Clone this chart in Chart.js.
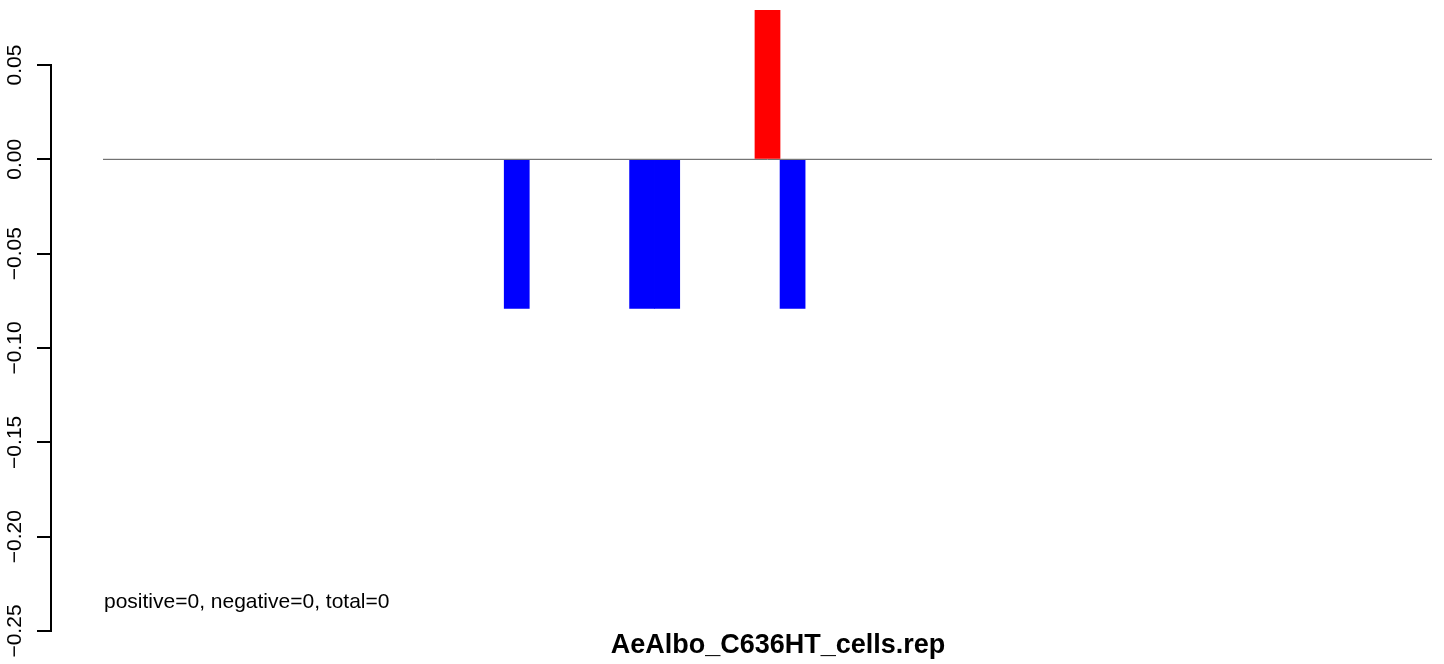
<!DOCTYPE html>
<html>
<head>
<meta charset="utf-8">
<title>AeAlbo_C636HT_cells.rep</title>
<script src="https://cdn.jsdelivr.net/npm/chart.js@4.4.1/dist/chart.umd.min.js"></script>
<style>
  body { margin: 0; background: #fff; }
  canvas { display: block; }
</style>
</head>
<body>
<canvas id="myChart" width="1444" height="664"></canvas>
<script>
// bins run 0..52 along the x axis, only non-empty ones listed
const binCount = 53;
const positiveBins = [26];
const positiveValues = [0.079];
const negativeBins = [16, 21, 22, 27];
const negativeValues = [-0.079, -0.079, -0.079, -0.079];
const yTicks = [-0.25, -0.2, -0.15, -0.1, -0.05, 0, 0.05];

const titleText = "AeAlbo_C636HT_cells.rep";
const statsText = "positive=0, negative=0, total=0";

const toPoints = (bins, values) =>
  bins.map((b, i) => ({ x: b + 0.5, y: values[i] }));

// R-style free text: the stats line and the bold title under the plot
const textLabels = {
  id: "textLabels",
  afterDraw(chart) {
    const c = chart.ctx;
    const x0 = chart.scales.x.getPixelForValue(0);
    c.save();
    c.fillStyle = "#000";
    c.textBaseline = "alphabetic";
    c.textAlign = "left";
    c.font = "21px 'Liberation Sans', Arial, sans-serif";
    c.fillText(statsText, x0 + 1, 608);
    c.textAlign = "center";
    c.font = "bold 27px 'Liberation Sans', Arial, sans-serif";
    c.fillText(titleText, 778, 653);
    c.restore();
  },
};

const ctx = document.getElementById("myChart");

new Chart(ctx, {
  type: "bar",
  data: {
    datasets: [
      {
        label: "positive",
        data: toPoints(positiveBins, positiveValues),
        backgroundColor: "#ff0000",
        borderWidth: 0,
        grouped: false,
        clip: false,
        order: 1,
      },
      {
        label: "negative",
        data: toPoints(negativeBins, negativeValues),
        backgroundColor: "#0000ff",
        borderWidth: 0,
        grouped: false,
        clip: false,
        order: 1,
      },
      {
        type: "line",
        label: "zero",
        data: [
          { x: 0, y: 0 },
          { x: binCount, y: 0 },
        ],
        borderColor: "#555555",
        borderWidth: 1,
        pointRadius: 0,
        order: 2,
      },
    ],
  },
  options: {
    responsive: false,
    animation: false,
    devicePixelRatio: 1,
    layout: {
      padding: { left: 0, top: 65, right: 12, bottom: 33 },
    },
    datasets: {
      bar: {
        barPercentage: 1,
        categoryPercentage: 1,
      },
    },
    plugins: {
      legend: { display: false },
      tooltip: { enabled: false },
    },
    scales: {
      x: {
        type: "linear",
        display: false,
        offset: false,
        min: -2.074,
        max: binCount,
      },
      y: {
        type: "linear",
        min: yTicks[0],
        max: yTicks[yTicks.length - 1],
        afterBuildTicks: (scale) => {
          scale.ticks = yTicks.map((v) => ({ value: v }));
        },
        afterFit: (scale) => {
          scale.width = 51;
        },
        border: {
          display: true,
          color: "#000",
          width: 2,
        },
        grid: {
          drawOnChartArea: false,
          drawTicks: true,
          tickLength: 14,
          color: "#000",
          lineWidth: 2,
        },
        ticks: {
          color: "#000",
          font: { family: "'Liberation Sans', Arial, sans-serif", size: 21 },
          minRotation: 90,
          maxRotation: 90,
          crossAlign: "center",
          padding: -5,
          autoSkip: false,
          callback: (v) =>
            Math.abs(v) < 1e-9 ? "0.00" : Number(v).toFixed(2).replace("-", "\u2212"),
        },
      },
    },
  },
  plugins: [textLabels],
});
</script>
</body>
</html>
